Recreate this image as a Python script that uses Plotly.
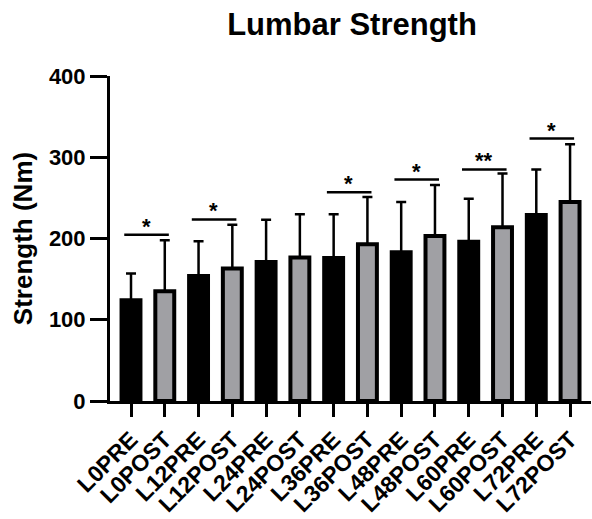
import plotly.graph_objects as go

categories = ["L0PRE", "L0POST", "L12PRE", "L12POST", "L24PRE", "L24POST",
              "L36PRE", "L36POST", "L48PRE", "L48POST", "L60PRE", "L60POST",
              "L72PRE", "L72POST"]
means = [124, 135, 154, 163, 171, 176.5, 176, 193, 183, 203, 196, 214, 229, 245]
sds = [33, 63, 42.5, 54, 52, 53.5, 54, 58, 62, 63, 53, 66, 56, 71]

# significance brackets: (pre index, bracket height, label)
sig_pre = [0, 2, 6, 8, 10, 12]
sig_height = [204.6, 223.5, 256.8, 272.5, 285, 323]
sig_label = ["*", "*", "*", "*", "**", "*"]

yticks = [0, 100, 200, 300, 400]

FONT = "Arial, Liberation Sans, sans-serif"
pre_idx = [i for i, c in enumerate(categories) if c.endswith("PRE")]
post_idx = [i for i, c in enumerate(categories) if c.endswith("POST")]

fig = go.Figure()
for idx, color in [(pre_idx, "black"), (post_idx, "#A0A0A4")]:
    fig.add_trace(go.Bar(
        x=idx,
        y=[means[i] for i in idx],
        width=0.56,
        marker=dict(color=color, line=dict(color="black", width=4)),
        error_y=dict(type="data", symmetric=False,
                     array=[sds[i] for i in idx],
                     arrayminus=[0] * len(idx),
                     color="black", thickness=2.5, width=5),
        showlegend=False,
        hoverinfo="skip",
    ))

for p, h, lab in zip(sig_pre, sig_height, sig_label):
    fig.add_shape(type="line", x0=p - 0.2, x1=p + 1.12, y0=h, y1=h,
                  xref="x", yref="y", line=dict(color="black", width=2.5))
    fig.add_annotation(x=p + 0.45, y=h, text=lab, showarrow=False,
                       xref="x", yref="y", yanchor="bottom", yshift=-6,
                       font=dict(family=FONT, size=22, color="black", weight="bold"))

fig.add_annotation(text="Strength (Nm)", textangle=-90, showarrow=False,
                   xref="paper", yref="paper", x=-87 / 481, y=0.498,
                   xanchor="center", yanchor="middle",
                   font=dict(family=FONT, size=26, color="black", weight="bold"))

fig.update_layout(
    width=592, height=519,
    margin=dict(l=110, r=1, t=76, b=118),
    paper_bgcolor="white", plot_bgcolor="white",
    title=dict(text="Lumbar Strength", x=352 / 592, xanchor="center",
               y=1 - 24 / 519, yanchor="middle", yref="container",
               font=dict(family=FONT, size=31, color="black", weight="bold")),
    xaxis=dict(range=[-0.622, 13.62], tickvals=list(range(len(categories))),
               ticktext=categories, tickangle=-45, automargin=False,
               showline=True, linecolor="black", linewidth=3,
               ticks="outside", ticklen=13, tickwidth=3, tickcolor="black",
               showgrid=False, zeroline=False,
               tickfont=dict(family=FONT, size=23, color="black", weight="bold")),
    yaxis=dict(range=[0, 400], tickvals=yticks, automargin=False,
               showline=True, linecolor="black", linewidth=3,
               ticks="outside", ticklen=17, tickwidth=3, tickcolor="black",
               showgrid=False, zeroline=False,
               tickfont=dict(family=FONT, size=22, color="black", weight="bold")),
)

fig.write_html("out.html", config={"displayModeBar": False},
               post_script="document.body.style.margin='0';document.body.style.overflow='hidden';")
